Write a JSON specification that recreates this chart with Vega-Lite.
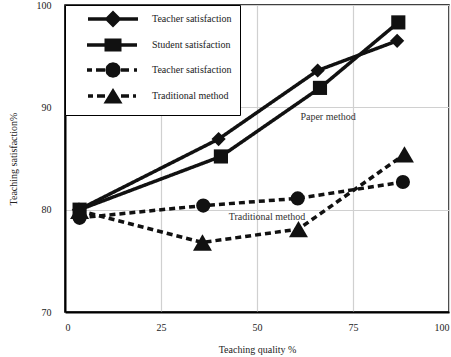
{
  "$schema": "https://vega.github.io/schema/vega-lite/v6.json",
  "width": 384,
  "height": 307,
  "autosize": {"type": "none"},
  "padding": {"left": 65, "top": 5, "right": 2, "bottom": 45},
  "background": "white",
  "config": {
    "font": "Liberation Serif",
    "view": {"stroke": "black", "strokeWidth": 1.5},
    "axis": {
      "labelFont": "Liberation Serif",
      "titleFont": "Liberation Serif",
      "labelFontSize": 10,
      "titleFontSize": 10,
      "titleFontWeight": "normal",
      "labelColor": "#222",
      "titleColor": "#222",
      "gridColor": "#d0d0d0",
      "gridWidth": 1.2,
      "domainColor": "black",
      "domainWidth": 2,
      "ticks": false
    }
  },
  "datasets": {
    "pts": [
      {"series": "A", "q": 3.6, "s": 80.0},
      {"series": "A", "q": 40.0, "s": 86.9},
      {"series": "A", "q": 65.8, "s": 93.6},
      {"series": "A", "q": 86.5, "s": 96.5},
      {"series": "B", "q": 3.8, "s": 80.0},
      {"series": "B", "q": 40.6, "s": 85.2},
      {"series": "B", "q": 66.4, "s": 91.9},
      {"series": "B", "q": 86.8, "s": 98.3},
      {"series": "C", "q": 3.8, "s": 79.2},
      {"series": "C", "q": 36.0, "s": 80.4},
      {"series": "C", "q": 60.6, "s": 81.1},
      {"series": "C", "q": 88.0, "s": 82.7},
      {"series": "D", "q": 3.8, "s": 79.9},
      {"series": "D", "q": 35.8, "s": 76.8},
      {"series": "D", "q": 60.8, "s": 78.1},
      {"series": "D", "q": 88.4, "s": 85.4}
    ],
    "notes": [
      {"label": "Paper method", "q": 68.5, "s": 89.1},
      {"label": "Traditional method", "q": 52.6, "s": 79.3}
    ]
  },
  "resolve": {"scale": {"shape": "independent"}},
  "layer": [
    {
      "data": {"name": "pts"},
      "mark": {"type": "line", "strokeWidth": 3.5, "color": "#111"},
      "encoding": {
        "x": {"field": "q", "type": "quantitative", "scale": {"domain": [0, 100]}, "axis": {"values": [0, 25, 50, 75, 100], "title": "Teaching quality %", "labelPadding": 10, "titlePadding": 12}},
        "y": {"field": "s", "type": "quantitative", "scale": {"domain": [70, 100]}, "axis": {"values": [70, 80, 90, 100], "title": "Teaching satisfaction%", "labelPadding": 14, "titlePadding": 18}},
        "detail": {"field": "series"},
        "strokeDash": {"field": "series", "type": "nominal", "scale": {"range": [[1, 0], [1, 0], [6, 4], [6, 4]]}, "legend": null}
      }
    },
    {
      "data": {"name": "pts"},
      "mark": {"type": "point", "filled": true, "opacity": 1, "color": "#111", "size": 200},
      "encoding": {
        "x": {"field": "q", "type": "quantitative"},
        "y": {"field": "s", "type": "quantitative"},
        "shape": {"field": "series", "type": "nominal", "scale": {"range": ["diamond", "square", "circle", "triangle-up"]}, "legend": null}
      }
    },
    {
      "data": {"name": "pts"},
      "transform": [{"filter": "datum.series == 'D'"}],
      "mark": {"type": "point", "filled": true, "opacity": 1, "color": "#111", "size": 360, "shape": "triangle-up"},
      "encoding": {
        "x": {"field": "q", "type": "quantitative"},
        "y": {"field": "s", "type": "quantitative"}
      }
    },
    {
      "data": {"name": "pts"},
      "transform": [{"filter": "false"}],
      "mark": {"type": "point", "filled": true, "opacity": 1, "color": "#111"},
      "encoding": {
        "x": {"field": "q", "type": "quantitative"},
        "y": {"field": "s", "type": "quantitative"},
        "shape": {
          "field": "series",
          "type": "nominal",
          "scale": {
            "domain": ["A", "B", "C", "D"],
            "range": [
              "M-5,-0.35H5V0.35H-5ZM0,-1.7L1.7,0L0,1.7L-1.7,0Z",
              "M-5.2,-0.35H4.8V0.35H-5.2ZM-1.7,-1.3H1.7V1.3H-1.7Z",
              "M-5.2,-0.35H-4.2V0.35H-5.2ZM-3.4,-0.35H-1.6V0.35H-3.4ZM1.6,-0.35H3.2V0.35H1.6ZM4.2,-0.35H4.8V0.35H4.2ZM1.55,0L1.34,0.78L0.78,1.34L0,1.55L-0.78,1.34L-1.34,0.78L-1.55,0L-1.34,-0.78L-0.78,-1.34L0,-1.55L0.78,-1.34L1.34,-0.78Z",
              "M-5,-0.35H-4V0.35H-5ZM-3.2,-0.35H-1.6V0.35H-3.2ZM1.6,-0.35H3.2V0.35H1.6ZM4,-0.35H4.6V0.35H4ZM0,-1.6L1.9,1.5H-1.9Z"
            ]
          },
          "legend": {
            "title": null,
            "orient": "top-left",
            "offset": 0,
            "strokeColor": "black",
            "fillColor": "white",
            "padding": 8,
            "rowPadding": 4,
            "symbolSize": 100,
            "symbolOffset": 34,
            "labelOffset": 33,
            "labelFont": "Liberation Serif",
            "labelFontSize": 10,
            "labelColor": "#222",
            "labelExpr": "datum.value == 'A' ? 'Teacher satisfaction' : datum.value == 'B' ? 'Student satisfaction' : datum.value == 'C' ? 'Teacher satisfaction' : 'Traditional method'"
          }
        }
      }
    },
    {
      "data": {"name": "notes"},
      "mark": {"type": "text", "font": "Liberation Serif", "fontSize": 10, "color": "#333"},
      "encoding": {
        "x": {"field": "q", "type": "quantitative"},
        "y": {"field": "s", "type": "quantitative"},
        "text": {"field": "label"}
      }
    }
  ]
}
